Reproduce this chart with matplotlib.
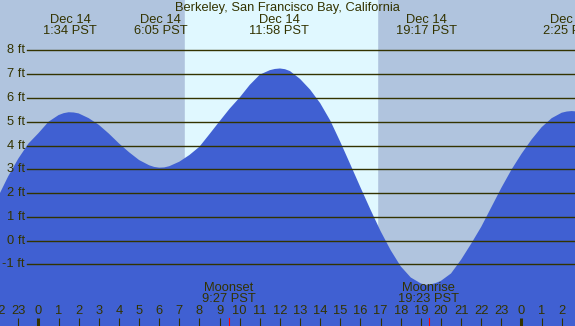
# -*- coding: utf-8 -*-

import matplotlib.pyplot as plt

# tide height (ft), hours from Dec 14 00:00
hours = [-2.0, -1.5, -1.0, -0.5, 0.0, 0.5, 1.0, 1.25, 1.5, 1.75, 2.0, 2.5, 3.0, 3.5, 4.0, 4.5,
         5.0, 5.5, 5.75, 6.0, 6.25, 6.5, 7.0, 7.5, 8.0, 8.5, 9.0, 9.5, 10.0, 10.5, 11.0, 11.5,
         11.75, 12.0, 12.25, 12.5, 13.0, 13.5, 14.0, 14.5, 15.0, 15.5, 16.0, 16.5, 17.0, 17.5,
         18.0, 18.5, 19.0, 19.25, 19.5, 19.75, 20.0, 20.5, 21.0, 21.5, 22.0, 22.5, 23.0, 23.5,
         24.0, 24.5, 25.0, 25.5, 26.0, 26.25, 26.5, 26.75, 27.0]
height = [1.85, 2.71, 3.45, 4.08, 4.52, 5.0, 5.28, 5.36, 5.4, 5.39, 5.35, 5.15, 4.87, 4.5, 4.09, 3.72,
          3.39, 3.17, 3.10, 3.07, 3.08, 3.13, 3.32, 3.6, 3.95, 4.48, 5.02, 5.55, 6.02, 6.55, 6.98, 7.17,
          7.22, 7.24, 7.21, 7.13, 6.8, 6.35, 5.78, 5.05, 4.15, 3.2, 2.24, 1.3, 0.4, -0.4,
          -1.08, -1.55, -1.8, -1.86, -1.84, -1.78, -1.69, -1.38, -0.8, -0.13, 0.58, 1.4, 2.22, 2.98,
          3.65, 4.25, 4.77, 5.15, 5.38, 5.43, 5.45, 5.43, 5.38]

# high / low tide labels
extreme_t = [1.567, 6.083, 11.967, 19.283, 26.417]
extreme_lbl = ["Dec 14\n1:34 PST", "Dec 14\n6:05 PST", "Dec 14\n11:58 PST",
               "Dec 14\n19:17 PST", "Dec 15\n2:25 PST"]

sunrise, sunset = 7.28, 16.82
moon_t = [9.45, 19.383]
moon_lbl = ["Moonset\n9:27 PST", "Moonrise\n19:23 PST"]

levels = [-1, 0, 1, 2, 3, 4, 5, 6, 7, 8]
hour_ticks = list(range(-2, 27))

title = "Berkeley, San Francisco Bay, California"

night = "#b0c4de"
day = "#e0f8ff"
water = "#4060d2"
ink = "#333300"
fs = 9.3

plt.rcParams['font.family'] = ['Liberation Sans', 'DejaVu Sans']

W, H = 575, 326
fig = plt.figure(figsize=(W / 100, H / 100), dpi=100)
ax = fig.add_axes([0, 0, 1, 1])
x0, x1 = -1.91, 26.66
y0, y1 = -3.59, 10.12
ax.set_xlim(x0, x1)
ax.set_ylim(y0, y1)
ax.axis("off")
fig.patch.set_facecolor(night)
ax.axvspan(x0, x1, color=night, zorder=0)
ax.axvspan(sunrise, sunset, color=day, zorder=1)

ax.fill_between(hours, height, y0, color=water, lw=0, zorder=2)

for lv in levels:
    ax.axhline(lv, xmin=27 / W, xmax=1, color=ink, lw=1.0, zorder=3)
    ax.text(25 / W, lv, "%d ft" % lv, transform=ax.get_yaxis_transform(),
            ha="right", va="center", fontsize=fs, color=ink, zorder=4)

ax.text(0.5, 1 - 8 / H, title, transform=ax.transAxes, ha="center", va="center",
        fontsize=fs, color=ink)

for t, lbl in zip(extreme_t, extreme_lbl):
    ax.text(t, 1 - 25.5 / H, lbl, transform=ax.get_xaxis_transform(), ha="center",
            va="center", fontsize=fs, color=ink, linespacing=0.92)

for t, lbl in zip(moon_t, moon_lbl):
    ax.text(t, 32.5 / H, lbl, transform=ax.get_xaxis_transform(), ha="center",
            va="center", fontsize=fs, color=ink, linespacing=0.85)
    ax.plot([t, t], [0, 8 / H], transform=ax.get_xaxis_transform(), color="red",
            lw=0.8, zorder=5)

for h in hour_ticks:
    ax.text(h, 14.5 / H, str(h % 24), transform=ax.get_xaxis_transform(), ha="center",
            va="center", fontsize=fs, color=ink)
    thick = 2.2 if h % 24 == 0 else 0.8
    ax.plot([h, h], [0, 8 / H], transform=ax.get_xaxis_transform(), color=ink,
            lw=thick, zorder=5, solid_capstyle="butt")

fig.savefig("out.png", dpi=100, facecolor=night)
